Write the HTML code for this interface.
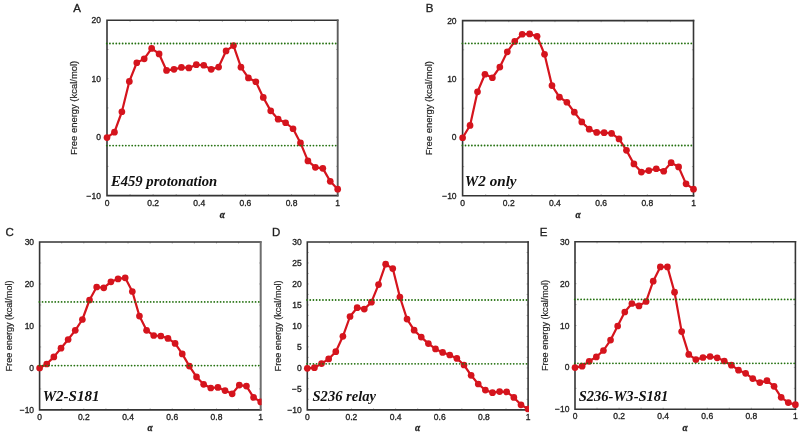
<!DOCTYPE html><html><head><meta charset="utf-8"><style>html,body{margin:0;padding:0;background:#fff;width:800px;height:436px;overflow:hidden}svg{display:block;will-change:transform}text{font-family:"Liberation Sans",sans-serif;stroke:#222;stroke-width:0.32px}</style></head><body>
<svg width="800" height="436" viewBox="0 0 800 436">
<rect width="800" height="436" fill="#fff"/>
<defs><clipPath id="c2"><rect x="33.6" y="236.0" width="228.0" height="176.89999999999998"/></clipPath><clipPath id="c3"><rect x="301.3" y="236.0" width="227.70000000000002" height="176.85000000000002"/></clipPath></defs>
<g><path d="M130.07 195.60v-1.6M130.07 20.30v1.6M153.14 195.60v-1.6M153.14 20.30v1.6M176.21 195.60v-1.6M176.21 20.30v1.6M199.28 195.60v-1.6M199.28 20.30v1.6M222.35 195.60v-1.6M222.35 20.30v1.6M245.42 195.60v-1.6M245.42 20.30v1.6M268.49 195.60v-1.6M268.49 20.30v1.6M291.56 195.60v-1.6M291.56 20.30v1.6M314.63 195.60v-1.6M314.63 20.30v1.6M107.00 166.38h1.6M337.70 166.38h-1.6M107.00 137.17h1.6M337.70 137.17h-1.6M107.00 107.95h1.6M337.70 107.95h-1.6M107.00 78.73h1.6M337.70 78.73h-1.6M107.00 49.52h1.6M337.70 49.52h-1.6" stroke="#999" stroke-width="0.7" fill="none"/><path d="M337.70 20.30H107.00V195.60H337.70" fill="none" stroke="#353535" stroke-width="1.6" stroke-linecap="square"/><path d="M337.70 19.50V196.40" fill="none" stroke="#5c5c5c" stroke-width="1.9"/><g><path d="M107.00 137.55 L114.44 132.15 L121.88 111.75 L129.33 81.45 L136.77 62.75 L144.21 58.85 L151.65 48.45 L159.09 53.95 L166.54 70.45 L173.98 69.35 L181.42 67.45 L188.86 67.95 L196.30 64.65 L203.75 65.25 L211.19 69.35 L218.63 67.05 L226.07 50.95 L233.51 45.55 L240.95 67.15 L248.40 77.95 L255.84 81.75 L263.28 97.45 L270.72 110.85 L278.16 119.15 L285.61 122.75 L293.05 128.75 L300.49 142.95 L307.93 160.95 L315.37 167.35 L322.82 168.35 L330.26 181.35 L337.70 189.15" fill="none" stroke="#d5141d" stroke-width="2.2" stroke-linejoin="round"/><g fill="#d5141d"><circle cx="107.00" cy="137.55" r="3.35"/><circle cx="114.44" cy="132.15" r="3.35"/><circle cx="121.88" cy="111.75" r="3.35"/><circle cx="129.33" cy="81.45" r="3.35"/><circle cx="136.77" cy="62.75" r="3.35"/><circle cx="144.21" cy="58.85" r="3.35"/><circle cx="151.65" cy="48.45" r="3.35"/><circle cx="159.09" cy="53.95" r="3.35"/><circle cx="166.54" cy="70.45" r="3.35"/><circle cx="173.98" cy="69.35" r="3.35"/><circle cx="181.42" cy="67.45" r="3.35"/><circle cx="188.86" cy="67.95" r="3.35"/><circle cx="196.30" cy="64.65" r="3.35"/><circle cx="203.75" cy="65.25" r="3.35"/><circle cx="211.19" cy="69.35" r="3.35"/><circle cx="218.63" cy="67.05" r="3.35"/><circle cx="226.07" cy="50.95" r="3.35"/><circle cx="233.51" cy="45.55" r="3.35"/><circle cx="240.95" cy="67.15" r="3.35"/><circle cx="248.40" cy="77.95" r="3.35"/><circle cx="255.84" cy="81.75" r="3.35"/><circle cx="263.28" cy="97.45" r="3.35"/><circle cx="270.72" cy="110.85" r="3.35"/><circle cx="278.16" cy="119.15" r="3.35"/><circle cx="285.61" cy="122.75" r="3.35"/><circle cx="293.05" cy="128.75" r="3.35"/><circle cx="300.49" cy="142.95" r="3.35"/><circle cx="307.93" cy="160.95" r="3.35"/><circle cx="315.37" cy="167.35" r="3.35"/><circle cx="322.82" cy="168.35" r="3.35"/><circle cx="330.26" cy="181.35" r="3.35"/><circle cx="337.70" cy="189.15" r="3.35"/></g></g><g fill="#23700f"><circle cx="106.75" cy="43.5" r="0.9"/><circle cx="109.93" cy="43.5" r="0.9"/><circle cx="113.11" cy="43.5" r="0.9"/><circle cx="116.29" cy="43.5" r="0.9"/><circle cx="119.47" cy="43.5" r="0.9"/><circle cx="122.65" cy="43.5" r="0.9"/><circle cx="125.83" cy="43.5" r="0.9"/><circle cx="129.01" cy="43.5" r="0.9"/><circle cx="132.19" cy="43.5" r="0.9"/><circle cx="135.37" cy="43.5" r="0.9"/><circle cx="138.55" cy="43.5" r="0.9"/><circle cx="141.73" cy="43.5" r="0.9"/><circle cx="144.91" cy="43.5" r="0.9"/><circle cx="148.09" cy="43.5" r="0.9"/><circle cx="151.27" cy="43.5" r="0.9"/><circle cx="154.45" cy="43.5" r="0.9"/><circle cx="157.63" cy="43.5" r="0.9"/><circle cx="160.81" cy="43.5" r="0.9"/><circle cx="163.99" cy="43.5" r="0.9"/><circle cx="167.17" cy="43.5" r="0.9"/><circle cx="170.35" cy="43.5" r="0.9"/><circle cx="173.53" cy="43.5" r="0.9"/><circle cx="176.71" cy="43.5" r="0.9"/><circle cx="179.89" cy="43.5" r="0.9"/><circle cx="183.07" cy="43.5" r="0.9"/><circle cx="186.25" cy="43.5" r="0.9"/><circle cx="189.43" cy="43.5" r="0.9"/><circle cx="192.61" cy="43.5" r="0.9"/><circle cx="195.79" cy="43.5" r="0.9"/><circle cx="198.97" cy="43.5" r="0.9"/><circle cx="202.15" cy="43.5" r="0.9"/><circle cx="205.33" cy="43.5" r="0.9"/><circle cx="208.51" cy="43.5" r="0.9"/><circle cx="211.69" cy="43.5" r="0.9"/><circle cx="214.87" cy="43.5" r="0.9"/><circle cx="218.05" cy="43.5" r="0.9"/><circle cx="221.23" cy="43.5" r="0.9"/><circle cx="224.41" cy="43.5" r="0.9"/><circle cx="227.59" cy="43.5" r="0.9"/><circle cx="230.77" cy="43.5" r="0.9"/><circle cx="233.95" cy="43.5" r="0.9"/><circle cx="237.13" cy="43.5" r="0.9"/><circle cx="240.31" cy="43.5" r="0.9"/><circle cx="243.49" cy="43.5" r="0.9"/><circle cx="246.67" cy="43.5" r="0.9"/><circle cx="249.85" cy="43.5" r="0.9"/><circle cx="253.03" cy="43.5" r="0.9"/><circle cx="256.21" cy="43.5" r="0.9"/><circle cx="259.39" cy="43.5" r="0.9"/><circle cx="262.57" cy="43.5" r="0.9"/><circle cx="265.75" cy="43.5" r="0.9"/><circle cx="268.93" cy="43.5" r="0.9"/><circle cx="272.11" cy="43.5" r="0.9"/><circle cx="275.29" cy="43.5" r="0.9"/><circle cx="278.47" cy="43.5" r="0.9"/><circle cx="281.65" cy="43.5" r="0.9"/><circle cx="284.83" cy="43.5" r="0.9"/><circle cx="288.01" cy="43.5" r="0.9"/><circle cx="291.19" cy="43.5" r="0.9"/><circle cx="294.37" cy="43.5" r="0.9"/><circle cx="297.55" cy="43.5" r="0.9"/><circle cx="300.73" cy="43.5" r="0.9"/><circle cx="303.91" cy="43.5" r="0.9"/><circle cx="307.09" cy="43.5" r="0.9"/><circle cx="310.27" cy="43.5" r="0.9"/><circle cx="313.45" cy="43.5" r="0.9"/><circle cx="316.63" cy="43.5" r="0.9"/><circle cx="319.81" cy="43.5" r="0.9"/><circle cx="322.99" cy="43.5" r="0.9"/><circle cx="326.17" cy="43.5" r="0.9"/><circle cx="329.35" cy="43.5" r="0.9"/><circle cx="332.53" cy="43.5" r="0.9"/><circle cx="335.71" cy="43.5" r="0.9"/></g><g fill="#23700f"><circle cx="106.75" cy="145.6" r="0.9"/><circle cx="109.93" cy="145.6" r="0.9"/><circle cx="113.11" cy="145.6" r="0.9"/><circle cx="116.29" cy="145.6" r="0.9"/><circle cx="119.47" cy="145.6" r="0.9"/><circle cx="122.65" cy="145.6" r="0.9"/><circle cx="125.83" cy="145.6" r="0.9"/><circle cx="129.01" cy="145.6" r="0.9"/><circle cx="132.19" cy="145.6" r="0.9"/><circle cx="135.37" cy="145.6" r="0.9"/><circle cx="138.55" cy="145.6" r="0.9"/><circle cx="141.73" cy="145.6" r="0.9"/><circle cx="144.91" cy="145.6" r="0.9"/><circle cx="148.09" cy="145.6" r="0.9"/><circle cx="151.27" cy="145.6" r="0.9"/><circle cx="154.45" cy="145.6" r="0.9"/><circle cx="157.63" cy="145.6" r="0.9"/><circle cx="160.81" cy="145.6" r="0.9"/><circle cx="163.99" cy="145.6" r="0.9"/><circle cx="167.17" cy="145.6" r="0.9"/><circle cx="170.35" cy="145.6" r="0.9"/><circle cx="173.53" cy="145.6" r="0.9"/><circle cx="176.71" cy="145.6" r="0.9"/><circle cx="179.89" cy="145.6" r="0.9"/><circle cx="183.07" cy="145.6" r="0.9"/><circle cx="186.25" cy="145.6" r="0.9"/><circle cx="189.43" cy="145.6" r="0.9"/><circle cx="192.61" cy="145.6" r="0.9"/><circle cx="195.79" cy="145.6" r="0.9"/><circle cx="198.97" cy="145.6" r="0.9"/><circle cx="202.15" cy="145.6" r="0.9"/><circle cx="205.33" cy="145.6" r="0.9"/><circle cx="208.51" cy="145.6" r="0.9"/><circle cx="211.69" cy="145.6" r="0.9"/><circle cx="214.87" cy="145.6" r="0.9"/><circle cx="218.05" cy="145.6" r="0.9"/><circle cx="221.23" cy="145.6" r="0.9"/><circle cx="224.41" cy="145.6" r="0.9"/><circle cx="227.59" cy="145.6" r="0.9"/><circle cx="230.77" cy="145.6" r="0.9"/><circle cx="233.95" cy="145.6" r="0.9"/><circle cx="237.13" cy="145.6" r="0.9"/><circle cx="240.31" cy="145.6" r="0.9"/><circle cx="243.49" cy="145.6" r="0.9"/><circle cx="246.67" cy="145.6" r="0.9"/><circle cx="249.85" cy="145.6" r="0.9"/><circle cx="253.03" cy="145.6" r="0.9"/><circle cx="256.21" cy="145.6" r="0.9"/><circle cx="259.39" cy="145.6" r="0.9"/><circle cx="262.57" cy="145.6" r="0.9"/><circle cx="265.75" cy="145.6" r="0.9"/><circle cx="268.93" cy="145.6" r="0.9"/><circle cx="272.11" cy="145.6" r="0.9"/><circle cx="275.29" cy="145.6" r="0.9"/><circle cx="278.47" cy="145.6" r="0.9"/><circle cx="281.65" cy="145.6" r="0.9"/><circle cx="284.83" cy="145.6" r="0.9"/><circle cx="288.01" cy="145.6" r="0.9"/><circle cx="291.19" cy="145.6" r="0.9"/><circle cx="294.37" cy="145.6" r="0.9"/><circle cx="297.55" cy="145.6" r="0.9"/><circle cx="300.73" cy="145.6" r="0.9"/><circle cx="303.91" cy="145.6" r="0.9"/><circle cx="307.09" cy="145.6" r="0.9"/><circle cx="310.27" cy="145.6" r="0.9"/><circle cx="313.45" cy="145.6" r="0.9"/><circle cx="316.63" cy="145.6" r="0.9"/><circle cx="319.81" cy="145.6" r="0.9"/><circle cx="322.99" cy="145.6" r="0.9"/><circle cx="326.17" cy="145.6" r="0.9"/><circle cx="329.35" cy="145.6" r="0.9"/><circle cx="332.53" cy="145.6" r="0.9"/><circle cx="335.71" cy="145.6" r="0.9"/></g><text x="101.00" y="23.35" font-size="8.5" text-anchor="end" fill="#1e1e1e">20</text><text x="101.00" y="81.78" font-size="8.5" text-anchor="end" fill="#1e1e1e">10</text><text x="101.00" y="140.22" font-size="8.5" text-anchor="end" fill="#1e1e1e">0</text><text x="101.00" y="198.65" font-size="8.5" text-anchor="end" fill="#1e1e1e">−10</text><text x="107.00" y="205.75" font-size="8.5" text-anchor="middle" fill="#1e1e1e">0</text><text x="153.14" y="205.75" font-size="8.5" text-anchor="middle" fill="#1e1e1e">0.2</text><text x="199.28" y="205.75" font-size="8.5" text-anchor="middle" fill="#1e1e1e">0.4</text><text x="245.42" y="205.75" font-size="8.5" text-anchor="middle" fill="#1e1e1e">0.6</text><text x="291.56" y="205.75" font-size="8.5" text-anchor="middle" fill="#1e1e1e">0.8</text><text x="337.70" y="205.75" font-size="8.5" text-anchor="middle" fill="#1e1e1e">1</text><text x="222.35" y="218.10" font-size="9.3" font-weight="bold" font-style="italic" text-anchor="middle" fill="#1e1e1e" style="font-family:'Liberation Serif',serif">α</text><text transform="translate(76.90,107.95) rotate(-90)" font-size="8.6" text-anchor="middle" fill="#1e1e1e" textLength="94.3" lengthAdjust="spacingAndGlyphs" style="stroke-width:0.18px">Free energy (kcal/mol)</text><text x="73.3" y="12.0" font-size="11.5" fill="#1e1e1e">A</text><text x="110.9" y="185.6" font-size="14.6" font-weight="bold" font-style="italic" fill="#111" textLength="106.3" lengthAdjust="spacingAndGlyphs" style="font-family:'Liberation Serif',serif;stroke-width:0">E459 protonation</text></g>
<g><path d="M485.69 195.80v-1.6M485.69 20.60v1.6M508.78 195.80v-1.6M508.78 20.60v1.6M531.87 195.80v-1.6M531.87 20.60v1.6M554.96 195.80v-1.6M554.96 20.60v1.6M578.05 195.80v-1.6M578.05 20.60v1.6M601.14 195.80v-1.6M601.14 20.60v1.6M624.23 195.80v-1.6M624.23 20.60v1.6M647.32 195.80v-1.6M647.32 20.60v1.6M670.41 195.80v-1.6M670.41 20.60v1.6M462.60 166.60h1.6M693.50 166.60h-1.6M462.60 137.40h1.6M693.50 137.40h-1.6M462.60 108.20h1.6M693.50 108.20h-1.6M462.60 79.00h1.6M693.50 79.00h-1.6M462.60 49.80h1.6M693.50 49.80h-1.6" stroke="#999" stroke-width="0.7" fill="none"/><path d="M693.50 20.60H462.60V195.80H693.50" fill="none" stroke="#353535" stroke-width="1.6" stroke-linecap="square"/><path d="M693.50 19.80V196.60" fill="none" stroke="#353535" stroke-width="1.6"/><g><path d="M462.60 137.75 L470.05 125.45 L477.50 91.85 L484.95 74.25 L492.39 77.75 L499.84 67.05 L507.29 51.85 L514.74 41.45 L522.19 34.25 L529.64 33.95 L537.08 36.35 L544.53 54.25 L551.98 85.55 L559.43 97.15 L566.88 102.25 L574.33 112.15 L581.77 121.95 L589.22 129.15 L596.67 132.45 L604.12 132.65 L611.57 133.45 L619.02 138.95 L626.46 150.35 L633.91 163.95 L641.36 172.05 L648.81 170.55 L656.26 168.75 L663.71 171.25 L671.15 162.65 L678.60 166.95 L686.05 183.85 L693.50 189.15" fill="none" stroke="#d5141d" stroke-width="2.2" stroke-linejoin="round"/><g fill="#d5141d"><circle cx="462.60" cy="137.75" r="3.35"/><circle cx="470.05" cy="125.45" r="3.35"/><circle cx="477.50" cy="91.85" r="3.35"/><circle cx="484.95" cy="74.25" r="3.35"/><circle cx="492.39" cy="77.75" r="3.35"/><circle cx="499.84" cy="67.05" r="3.35"/><circle cx="507.29" cy="51.85" r="3.35"/><circle cx="514.74" cy="41.45" r="3.35"/><circle cx="522.19" cy="34.25" r="3.35"/><circle cx="529.64" cy="33.95" r="3.35"/><circle cx="537.08" cy="36.35" r="3.35"/><circle cx="544.53" cy="54.25" r="3.35"/><circle cx="551.98" cy="85.55" r="3.35"/><circle cx="559.43" cy="97.15" r="3.35"/><circle cx="566.88" cy="102.25" r="3.35"/><circle cx="574.33" cy="112.15" r="3.35"/><circle cx="581.77" cy="121.95" r="3.35"/><circle cx="589.22" cy="129.15" r="3.35"/><circle cx="596.67" cy="132.45" r="3.35"/><circle cx="604.12" cy="132.65" r="3.35"/><circle cx="611.57" cy="133.45" r="3.35"/><circle cx="619.02" cy="138.95" r="3.35"/><circle cx="626.46" cy="150.35" r="3.35"/><circle cx="633.91" cy="163.95" r="3.35"/><circle cx="641.36" cy="172.05" r="3.35"/><circle cx="648.81" cy="170.55" r="3.35"/><circle cx="656.26" cy="168.75" r="3.35"/><circle cx="663.71" cy="171.25" r="3.35"/><circle cx="671.15" cy="162.65" r="3.35"/><circle cx="678.60" cy="166.95" r="3.35"/><circle cx="686.05" cy="183.85" r="3.35"/><circle cx="693.50" cy="189.15" r="3.35"/></g></g><g fill="#23700f"><circle cx="462.35" cy="43.45" r="0.9"/><circle cx="465.53" cy="43.45" r="0.9"/><circle cx="468.71" cy="43.45" r="0.9"/><circle cx="471.89" cy="43.45" r="0.9"/><circle cx="475.07" cy="43.45" r="0.9"/><circle cx="478.25" cy="43.45" r="0.9"/><circle cx="481.43" cy="43.45" r="0.9"/><circle cx="484.61" cy="43.45" r="0.9"/><circle cx="487.79" cy="43.45" r="0.9"/><circle cx="490.97" cy="43.45" r="0.9"/><circle cx="494.15" cy="43.45" r="0.9"/><circle cx="497.33" cy="43.45" r="0.9"/><circle cx="500.51" cy="43.45" r="0.9"/><circle cx="503.69" cy="43.45" r="0.9"/><circle cx="506.87" cy="43.45" r="0.9"/><circle cx="510.05" cy="43.45" r="0.9"/><circle cx="513.23" cy="43.45" r="0.9"/><circle cx="516.41" cy="43.45" r="0.9"/><circle cx="519.59" cy="43.45" r="0.9"/><circle cx="522.77" cy="43.45" r="0.9"/><circle cx="525.95" cy="43.45" r="0.9"/><circle cx="529.13" cy="43.45" r="0.9"/><circle cx="532.31" cy="43.45" r="0.9"/><circle cx="535.49" cy="43.45" r="0.9"/><circle cx="538.67" cy="43.45" r="0.9"/><circle cx="541.85" cy="43.45" r="0.9"/><circle cx="545.03" cy="43.45" r="0.9"/><circle cx="548.21" cy="43.45" r="0.9"/><circle cx="551.39" cy="43.45" r="0.9"/><circle cx="554.57" cy="43.45" r="0.9"/><circle cx="557.75" cy="43.45" r="0.9"/><circle cx="560.93" cy="43.45" r="0.9"/><circle cx="564.11" cy="43.45" r="0.9"/><circle cx="567.29" cy="43.45" r="0.9"/><circle cx="570.47" cy="43.45" r="0.9"/><circle cx="573.65" cy="43.45" r="0.9"/><circle cx="576.83" cy="43.45" r="0.9"/><circle cx="580.01" cy="43.45" r="0.9"/><circle cx="583.19" cy="43.45" r="0.9"/><circle cx="586.37" cy="43.45" r="0.9"/><circle cx="589.55" cy="43.45" r="0.9"/><circle cx="592.73" cy="43.45" r="0.9"/><circle cx="595.91" cy="43.45" r="0.9"/><circle cx="599.09" cy="43.45" r="0.9"/><circle cx="602.27" cy="43.45" r="0.9"/><circle cx="605.45" cy="43.45" r="0.9"/><circle cx="608.63" cy="43.45" r="0.9"/><circle cx="611.81" cy="43.45" r="0.9"/><circle cx="614.99" cy="43.45" r="0.9"/><circle cx="618.17" cy="43.45" r="0.9"/><circle cx="621.35" cy="43.45" r="0.9"/><circle cx="624.53" cy="43.45" r="0.9"/><circle cx="627.71" cy="43.45" r="0.9"/><circle cx="630.89" cy="43.45" r="0.9"/><circle cx="634.07" cy="43.45" r="0.9"/><circle cx="637.25" cy="43.45" r="0.9"/><circle cx="640.43" cy="43.45" r="0.9"/><circle cx="643.61" cy="43.45" r="0.9"/><circle cx="646.79" cy="43.45" r="0.9"/><circle cx="649.97" cy="43.45" r="0.9"/><circle cx="653.15" cy="43.45" r="0.9"/><circle cx="656.33" cy="43.45" r="0.9"/><circle cx="659.51" cy="43.45" r="0.9"/><circle cx="662.69" cy="43.45" r="0.9"/><circle cx="665.87" cy="43.45" r="0.9"/><circle cx="669.05" cy="43.45" r="0.9"/><circle cx="672.23" cy="43.45" r="0.9"/><circle cx="675.41" cy="43.45" r="0.9"/><circle cx="678.59" cy="43.45" r="0.9"/><circle cx="681.77" cy="43.45" r="0.9"/><circle cx="684.95" cy="43.45" r="0.9"/><circle cx="688.13" cy="43.45" r="0.9"/><circle cx="691.31" cy="43.45" r="0.9"/></g><g fill="#23700f"><circle cx="462.35" cy="145.5" r="0.9"/><circle cx="465.53" cy="145.5" r="0.9"/><circle cx="468.71" cy="145.5" r="0.9"/><circle cx="471.89" cy="145.5" r="0.9"/><circle cx="475.07" cy="145.5" r="0.9"/><circle cx="478.25" cy="145.5" r="0.9"/><circle cx="481.43" cy="145.5" r="0.9"/><circle cx="484.61" cy="145.5" r="0.9"/><circle cx="487.79" cy="145.5" r="0.9"/><circle cx="490.97" cy="145.5" r="0.9"/><circle cx="494.15" cy="145.5" r="0.9"/><circle cx="497.33" cy="145.5" r="0.9"/><circle cx="500.51" cy="145.5" r="0.9"/><circle cx="503.69" cy="145.5" r="0.9"/><circle cx="506.87" cy="145.5" r="0.9"/><circle cx="510.05" cy="145.5" r="0.9"/><circle cx="513.23" cy="145.5" r="0.9"/><circle cx="516.41" cy="145.5" r="0.9"/><circle cx="519.59" cy="145.5" r="0.9"/><circle cx="522.77" cy="145.5" r="0.9"/><circle cx="525.95" cy="145.5" r="0.9"/><circle cx="529.13" cy="145.5" r="0.9"/><circle cx="532.31" cy="145.5" r="0.9"/><circle cx="535.49" cy="145.5" r="0.9"/><circle cx="538.67" cy="145.5" r="0.9"/><circle cx="541.85" cy="145.5" r="0.9"/><circle cx="545.03" cy="145.5" r="0.9"/><circle cx="548.21" cy="145.5" r="0.9"/><circle cx="551.39" cy="145.5" r="0.9"/><circle cx="554.57" cy="145.5" r="0.9"/><circle cx="557.75" cy="145.5" r="0.9"/><circle cx="560.93" cy="145.5" r="0.9"/><circle cx="564.11" cy="145.5" r="0.9"/><circle cx="567.29" cy="145.5" r="0.9"/><circle cx="570.47" cy="145.5" r="0.9"/><circle cx="573.65" cy="145.5" r="0.9"/><circle cx="576.83" cy="145.5" r="0.9"/><circle cx="580.01" cy="145.5" r="0.9"/><circle cx="583.19" cy="145.5" r="0.9"/><circle cx="586.37" cy="145.5" r="0.9"/><circle cx="589.55" cy="145.5" r="0.9"/><circle cx="592.73" cy="145.5" r="0.9"/><circle cx="595.91" cy="145.5" r="0.9"/><circle cx="599.09" cy="145.5" r="0.9"/><circle cx="602.27" cy="145.5" r="0.9"/><circle cx="605.45" cy="145.5" r="0.9"/><circle cx="608.63" cy="145.5" r="0.9"/><circle cx="611.81" cy="145.5" r="0.9"/><circle cx="614.99" cy="145.5" r="0.9"/><circle cx="618.17" cy="145.5" r="0.9"/><circle cx="621.35" cy="145.5" r="0.9"/><circle cx="624.53" cy="145.5" r="0.9"/><circle cx="627.71" cy="145.5" r="0.9"/><circle cx="630.89" cy="145.5" r="0.9"/><circle cx="634.07" cy="145.5" r="0.9"/><circle cx="637.25" cy="145.5" r="0.9"/><circle cx="640.43" cy="145.5" r="0.9"/><circle cx="643.61" cy="145.5" r="0.9"/><circle cx="646.79" cy="145.5" r="0.9"/><circle cx="649.97" cy="145.5" r="0.9"/><circle cx="653.15" cy="145.5" r="0.9"/><circle cx="656.33" cy="145.5" r="0.9"/><circle cx="659.51" cy="145.5" r="0.9"/><circle cx="662.69" cy="145.5" r="0.9"/><circle cx="665.87" cy="145.5" r="0.9"/><circle cx="669.05" cy="145.5" r="0.9"/><circle cx="672.23" cy="145.5" r="0.9"/><circle cx="675.41" cy="145.5" r="0.9"/><circle cx="678.59" cy="145.5" r="0.9"/><circle cx="681.77" cy="145.5" r="0.9"/><circle cx="684.95" cy="145.5" r="0.9"/><circle cx="688.13" cy="145.5" r="0.9"/><circle cx="691.31" cy="145.5" r="0.9"/></g><text x="456.60" y="23.65" font-size="8.5" text-anchor="end" fill="#1e1e1e">20</text><text x="456.60" y="82.05" font-size="8.5" text-anchor="end" fill="#1e1e1e">10</text><text x="456.60" y="140.45" font-size="8.5" text-anchor="end" fill="#1e1e1e">0</text><text x="456.60" y="198.85" font-size="8.5" text-anchor="end" fill="#1e1e1e">−10</text><text x="462.60" y="205.95" font-size="8.5" text-anchor="middle" fill="#1e1e1e">0</text><text x="508.78" y="205.95" font-size="8.5" text-anchor="middle" fill="#1e1e1e">0.2</text><text x="554.96" y="205.95" font-size="8.5" text-anchor="middle" fill="#1e1e1e">0.4</text><text x="601.14" y="205.95" font-size="8.5" text-anchor="middle" fill="#1e1e1e">0.6</text><text x="647.32" y="205.95" font-size="8.5" text-anchor="middle" fill="#1e1e1e">0.8</text><text x="693.50" y="205.95" font-size="8.5" text-anchor="middle" fill="#1e1e1e">1</text><text x="578.05" y="218.30" font-size="9.3" font-weight="bold" font-style="italic" text-anchor="middle" fill="#1e1e1e" style="font-family:'Liberation Serif',serif">α</text><text transform="translate(432.40,108.20) rotate(-90)" font-size="8.6" text-anchor="middle" fill="#1e1e1e" textLength="94.3" lengthAdjust="spacingAndGlyphs" style="stroke-width:0.18px">Free energy (kcal/mol)</text><text x="425.7" y="11.9" font-size="11.5" fill="#1e1e1e">B</text><text x="464.8" y="186.0" font-size="14.6" font-weight="bold" font-style="italic" fill="#111" textLength="51.8" lengthAdjust="spacingAndGlyphs" style="font-family:'Liberation Serif',serif;stroke-width:0">W2 only</text></g>
<g><path d="M61.71 409.90v-1.6M61.71 242.00v1.6M83.82 409.90v-1.6M83.82 242.00v1.6M105.93 409.90v-1.6M105.93 242.00v1.6M128.04 409.90v-1.6M128.04 242.00v1.6M150.15 409.90v-1.6M150.15 242.00v1.6M172.26 409.90v-1.6M172.26 242.00v1.6M194.37 409.90v-1.6M194.37 242.00v1.6M216.48 409.90v-1.6M216.48 242.00v1.6M238.59 409.90v-1.6M238.59 242.00v1.6M39.60 388.91h1.6M260.70 388.91h-1.6M39.60 367.92h1.6M260.70 367.92h-1.6M39.60 346.94h1.6M260.70 346.94h-1.6M39.60 325.95h1.6M260.70 325.95h-1.6M39.60 304.96h1.6M260.70 304.96h-1.6M39.60 283.98h1.6M260.70 283.98h-1.6M39.60 262.99h1.6M260.70 262.99h-1.6" stroke="#999" stroke-width="0.7" fill="none"/><path d="M260.70 242.00H39.60V409.90H260.70" fill="none" stroke="#353535" stroke-width="1.6" stroke-linecap="square"/><path d="M260.70 241.20V410.70" fill="none" stroke="#6e6e6e" stroke-width="2.0"/><g clip-path="url(#c2)"><path d="M39.60 368.00 L46.73 364.00 L53.86 356.90 L61.00 348.20 L68.13 339.50 L75.26 330.30 L82.39 319.50 L89.53 300.00 L96.66 287.00 L103.79 287.80 L110.92 281.80 L118.05 278.90 L125.19 277.80 L132.32 291.50 L139.45 316.10 L146.58 330.30 L153.72 335.50 L160.85 336.00 L167.98 338.40 L175.11 343.40 L182.25 353.90 L189.38 366.10 L196.51 376.90 L203.64 384.30 L210.77 388.00 L217.91 387.40 L225.04 390.60 L232.17 393.80 L239.30 385.10 L246.44 386.10 L253.57 397.40 L260.70 401.90" fill="none" stroke="#d5141d" stroke-width="2.2" stroke-linejoin="round"/><g fill="#d5141d"><circle cx="39.60" cy="368.00" r="3.35"/><circle cx="46.73" cy="364.00" r="3.35"/><circle cx="53.86" cy="356.90" r="3.35"/><circle cx="61.00" cy="348.20" r="3.35"/><circle cx="68.13" cy="339.50" r="3.35"/><circle cx="75.26" cy="330.30" r="3.35"/><circle cx="82.39" cy="319.50" r="3.35"/><circle cx="89.53" cy="300.00" r="3.35"/><circle cx="96.66" cy="287.00" r="3.35"/><circle cx="103.79" cy="287.80" r="3.35"/><circle cx="110.92" cy="281.80" r="3.35"/><circle cx="118.05" cy="278.90" r="3.35"/><circle cx="125.19" cy="277.80" r="3.35"/><circle cx="132.32" cy="291.50" r="3.35"/><circle cx="139.45" cy="316.10" r="3.35"/><circle cx="146.58" cy="330.30" r="3.35"/><circle cx="153.72" cy="335.50" r="3.35"/><circle cx="160.85" cy="336.00" r="3.35"/><circle cx="167.98" cy="338.40" r="3.35"/><circle cx="175.11" cy="343.40" r="3.35"/><circle cx="182.25" cy="353.90" r="3.35"/><circle cx="189.38" cy="366.10" r="3.35"/><circle cx="196.51" cy="376.90" r="3.35"/><circle cx="203.64" cy="384.30" r="3.35"/><circle cx="210.77" cy="388.00" r="3.35"/><circle cx="217.91" cy="387.40" r="3.35"/><circle cx="225.04" cy="390.60" r="3.35"/><circle cx="232.17" cy="393.80" r="3.35"/><circle cx="239.30" cy="385.10" r="3.35"/><circle cx="246.44" cy="386.10" r="3.35"/><circle cx="253.57" cy="397.40" r="3.35"/><circle cx="260.70" cy="401.90" r="3.35"/></g></g><g fill="#23700f"><circle cx="39.35" cy="301.9" r="0.9"/><circle cx="42.53" cy="301.9" r="0.9"/><circle cx="45.71" cy="301.9" r="0.9"/><circle cx="48.89" cy="301.9" r="0.9"/><circle cx="52.07" cy="301.9" r="0.9"/><circle cx="55.25" cy="301.9" r="0.9"/><circle cx="58.43" cy="301.9" r="0.9"/><circle cx="61.61" cy="301.9" r="0.9"/><circle cx="64.79" cy="301.9" r="0.9"/><circle cx="67.97" cy="301.9" r="0.9"/><circle cx="71.15" cy="301.9" r="0.9"/><circle cx="74.33" cy="301.9" r="0.9"/><circle cx="77.51" cy="301.9" r="0.9"/><circle cx="80.69" cy="301.9" r="0.9"/><circle cx="83.87" cy="301.9" r="0.9"/><circle cx="87.05" cy="301.9" r="0.9"/><circle cx="90.23" cy="301.9" r="0.9"/><circle cx="93.41" cy="301.9" r="0.9"/><circle cx="96.59" cy="301.9" r="0.9"/><circle cx="99.77" cy="301.9" r="0.9"/><circle cx="102.95" cy="301.9" r="0.9"/><circle cx="106.13" cy="301.9" r="0.9"/><circle cx="109.31" cy="301.9" r="0.9"/><circle cx="112.49" cy="301.9" r="0.9"/><circle cx="115.67" cy="301.9" r="0.9"/><circle cx="118.85" cy="301.9" r="0.9"/><circle cx="122.03" cy="301.9" r="0.9"/><circle cx="125.21" cy="301.9" r="0.9"/><circle cx="128.39" cy="301.9" r="0.9"/><circle cx="131.57" cy="301.9" r="0.9"/><circle cx="134.75" cy="301.9" r="0.9"/><circle cx="137.93" cy="301.9" r="0.9"/><circle cx="141.11" cy="301.9" r="0.9"/><circle cx="144.29" cy="301.9" r="0.9"/><circle cx="147.47" cy="301.9" r="0.9"/><circle cx="150.65" cy="301.9" r="0.9"/><circle cx="153.83" cy="301.9" r="0.9"/><circle cx="157.01" cy="301.9" r="0.9"/><circle cx="160.19" cy="301.9" r="0.9"/><circle cx="163.37" cy="301.9" r="0.9"/><circle cx="166.55" cy="301.9" r="0.9"/><circle cx="169.73" cy="301.9" r="0.9"/><circle cx="172.91" cy="301.9" r="0.9"/><circle cx="176.09" cy="301.9" r="0.9"/><circle cx="179.27" cy="301.9" r="0.9"/><circle cx="182.45" cy="301.9" r="0.9"/><circle cx="185.63" cy="301.9" r="0.9"/><circle cx="188.81" cy="301.9" r="0.9"/><circle cx="191.99" cy="301.9" r="0.9"/><circle cx="195.17" cy="301.9" r="0.9"/><circle cx="198.35" cy="301.9" r="0.9"/><circle cx="201.53" cy="301.9" r="0.9"/><circle cx="204.71" cy="301.9" r="0.9"/><circle cx="207.89" cy="301.9" r="0.9"/><circle cx="211.07" cy="301.9" r="0.9"/><circle cx="214.25" cy="301.9" r="0.9"/><circle cx="217.43" cy="301.9" r="0.9"/><circle cx="220.61" cy="301.9" r="0.9"/><circle cx="223.79" cy="301.9" r="0.9"/><circle cx="226.97" cy="301.9" r="0.9"/><circle cx="230.15" cy="301.9" r="0.9"/><circle cx="233.33" cy="301.9" r="0.9"/><circle cx="236.51" cy="301.9" r="0.9"/><circle cx="239.69" cy="301.9" r="0.9"/><circle cx="242.87" cy="301.9" r="0.9"/><circle cx="246.05" cy="301.9" r="0.9"/><circle cx="249.23" cy="301.9" r="0.9"/><circle cx="252.41" cy="301.9" r="0.9"/><circle cx="255.59" cy="301.9" r="0.9"/><circle cx="258.77" cy="301.9" r="0.9"/></g><g fill="#23700f"><circle cx="39.35" cy="365.6" r="0.9"/><circle cx="42.53" cy="365.6" r="0.9"/><circle cx="45.71" cy="365.6" r="0.9"/><circle cx="48.89" cy="365.6" r="0.9"/><circle cx="52.07" cy="365.6" r="0.9"/><circle cx="55.25" cy="365.6" r="0.9"/><circle cx="58.43" cy="365.6" r="0.9"/><circle cx="61.61" cy="365.6" r="0.9"/><circle cx="64.79" cy="365.6" r="0.9"/><circle cx="67.97" cy="365.6" r="0.9"/><circle cx="71.15" cy="365.6" r="0.9"/><circle cx="74.33" cy="365.6" r="0.9"/><circle cx="77.51" cy="365.6" r="0.9"/><circle cx="80.69" cy="365.6" r="0.9"/><circle cx="83.87" cy="365.6" r="0.9"/><circle cx="87.05" cy="365.6" r="0.9"/><circle cx="90.23" cy="365.6" r="0.9"/><circle cx="93.41" cy="365.6" r="0.9"/><circle cx="96.59" cy="365.6" r="0.9"/><circle cx="99.77" cy="365.6" r="0.9"/><circle cx="102.95" cy="365.6" r="0.9"/><circle cx="106.13" cy="365.6" r="0.9"/><circle cx="109.31" cy="365.6" r="0.9"/><circle cx="112.49" cy="365.6" r="0.9"/><circle cx="115.67" cy="365.6" r="0.9"/><circle cx="118.85" cy="365.6" r="0.9"/><circle cx="122.03" cy="365.6" r="0.9"/><circle cx="125.21" cy="365.6" r="0.9"/><circle cx="128.39" cy="365.6" r="0.9"/><circle cx="131.57" cy="365.6" r="0.9"/><circle cx="134.75" cy="365.6" r="0.9"/><circle cx="137.93" cy="365.6" r="0.9"/><circle cx="141.11" cy="365.6" r="0.9"/><circle cx="144.29" cy="365.6" r="0.9"/><circle cx="147.47" cy="365.6" r="0.9"/><circle cx="150.65" cy="365.6" r="0.9"/><circle cx="153.83" cy="365.6" r="0.9"/><circle cx="157.01" cy="365.6" r="0.9"/><circle cx="160.19" cy="365.6" r="0.9"/><circle cx="163.37" cy="365.6" r="0.9"/><circle cx="166.55" cy="365.6" r="0.9"/><circle cx="169.73" cy="365.6" r="0.9"/><circle cx="172.91" cy="365.6" r="0.9"/><circle cx="176.09" cy="365.6" r="0.9"/><circle cx="179.27" cy="365.6" r="0.9"/><circle cx="182.45" cy="365.6" r="0.9"/><circle cx="185.63" cy="365.6" r="0.9"/><circle cx="188.81" cy="365.6" r="0.9"/><circle cx="191.99" cy="365.6" r="0.9"/><circle cx="195.17" cy="365.6" r="0.9"/><circle cx="198.35" cy="365.6" r="0.9"/><circle cx="201.53" cy="365.6" r="0.9"/><circle cx="204.71" cy="365.6" r="0.9"/><circle cx="207.89" cy="365.6" r="0.9"/><circle cx="211.07" cy="365.6" r="0.9"/><circle cx="214.25" cy="365.6" r="0.9"/><circle cx="217.43" cy="365.6" r="0.9"/><circle cx="220.61" cy="365.6" r="0.9"/><circle cx="223.79" cy="365.6" r="0.9"/><circle cx="226.97" cy="365.6" r="0.9"/><circle cx="230.15" cy="365.6" r="0.9"/><circle cx="233.33" cy="365.6" r="0.9"/><circle cx="236.51" cy="365.6" r="0.9"/><circle cx="239.69" cy="365.6" r="0.9"/><circle cx="242.87" cy="365.6" r="0.9"/><circle cx="246.05" cy="365.6" r="0.9"/><circle cx="249.23" cy="365.6" r="0.9"/><circle cx="252.41" cy="365.6" r="0.9"/><circle cx="255.59" cy="365.6" r="0.9"/><circle cx="258.77" cy="365.6" r="0.9"/></g><text x="34.10" y="245.05" font-size="8.5" text-anchor="end" fill="#1e1e1e">30</text><text x="34.10" y="287.03" font-size="8.5" text-anchor="end" fill="#1e1e1e">20</text><text x="34.10" y="329.00" font-size="8.5" text-anchor="end" fill="#1e1e1e">10</text><text x="34.10" y="370.97" font-size="8.5" text-anchor="end" fill="#1e1e1e">0</text><text x="34.10" y="412.95" font-size="8.5" text-anchor="end" fill="#1e1e1e">−10</text><text x="39.60" y="420.00" font-size="8.5" text-anchor="middle" fill="#1e1e1e">0</text><text x="83.82" y="420.00" font-size="8.5" text-anchor="middle" fill="#1e1e1e">0.2</text><text x="128.04" y="420.00" font-size="8.5" text-anchor="middle" fill="#1e1e1e">0.4</text><text x="172.26" y="420.00" font-size="8.5" text-anchor="middle" fill="#1e1e1e">0.6</text><text x="216.48" y="420.00" font-size="8.5" text-anchor="middle" fill="#1e1e1e">0.8</text><text x="260.70" y="420.00" font-size="8.5" text-anchor="middle" fill="#1e1e1e">1</text><text x="150.15" y="431.30" font-size="9.3" font-weight="bold" font-style="italic" text-anchor="middle" fill="#1e1e1e" style="font-family:'Liberation Serif',serif">α</text><text transform="translate(11.70,325.95) rotate(-90)" font-size="8.6" text-anchor="middle" fill="#1e1e1e" textLength="91.0" lengthAdjust="spacingAndGlyphs" style="stroke-width:0.18px">Free energy (kcal/mol)</text><text x="5.5" y="235.8" font-size="11.5" fill="#1e1e1e">C</text><text x="42.7" y="400.7" font-size="14.6" font-weight="bold" font-style="italic" fill="#111" textLength="56.9" lengthAdjust="spacingAndGlyphs" style="font-family:'Liberation Serif',serif;stroke-width:0">W2-S181</text></g>
<g><path d="M329.38 409.85v-1.6M329.38 242.00v1.6M351.46 409.85v-1.6M351.46 242.00v1.6M373.54 409.85v-1.6M373.54 242.00v1.6M395.62 409.85v-1.6M395.62 242.00v1.6M417.70 409.85v-1.6M417.70 242.00v1.6M439.78 409.85v-1.6M439.78 242.00v1.6M461.86 409.85v-1.6M461.86 242.00v1.6M483.94 409.85v-1.6M483.94 242.00v1.6M506.02 409.85v-1.6M506.02 242.00v1.6M307.30 399.36h1.6M528.10 399.36h-1.6M307.30 388.87h1.6M528.10 388.87h-1.6M307.30 378.38h1.6M528.10 378.38h-1.6M307.30 367.89h1.6M528.10 367.89h-1.6M307.30 357.40h1.6M528.10 357.40h-1.6M307.30 346.91h1.6M528.10 346.91h-1.6M307.30 336.42h1.6M528.10 336.42h-1.6M307.30 325.93h1.6M528.10 325.93h-1.6M307.30 315.43h1.6M528.10 315.43h-1.6M307.30 304.94h1.6M528.10 304.94h-1.6M307.30 294.45h1.6M528.10 294.45h-1.6M307.30 283.96h1.6M528.10 283.96h-1.6M307.30 273.47h1.6M528.10 273.47h-1.6M307.30 262.98h1.6M528.10 262.98h-1.6M307.30 252.49h1.6M528.10 252.49h-1.6" stroke="#999" stroke-width="0.7" fill="none"/><path d="M528.10 242.00H307.30V409.85H528.10" fill="none" stroke="#353535" stroke-width="1.6" stroke-linecap="square"/><path d="M528.10 241.20V410.65" fill="none" stroke="#353535" stroke-width="1.6"/><g clip-path="url(#c3)"><path d="M307.30 368.30 L314.42 367.70 L321.55 363.60 L328.67 358.90 L335.79 351.70 L342.91 336.30 L350.04 316.50 L357.16 307.70 L364.28 309.10 L371.40 302.20 L378.53 284.60 L385.65 264.20 L392.77 268.60 L399.89 297.00 L407.02 319.10 L414.14 330.20 L421.26 337.10 L428.38 343.60 L435.51 348.90 L442.63 352.40 L449.75 355.00 L456.87 358.40 L464.00 365.00 L471.12 375.30 L478.24 384.00 L485.36 390.10 L492.49 392.70 L499.61 391.60 L506.73 391.90 L513.85 397.40 L520.98 404.80 L528.10 409.00" fill="none" stroke="#d5141d" stroke-width="2.2" stroke-linejoin="round"/><g fill="#d5141d"><circle cx="307.30" cy="368.30" r="3.35"/><circle cx="314.42" cy="367.70" r="3.35"/><circle cx="321.55" cy="363.60" r="3.35"/><circle cx="328.67" cy="358.90" r="3.35"/><circle cx="335.79" cy="351.70" r="3.35"/><circle cx="342.91" cy="336.30" r="3.35"/><circle cx="350.04" cy="316.50" r="3.35"/><circle cx="357.16" cy="307.70" r="3.35"/><circle cx="364.28" cy="309.10" r="3.35"/><circle cx="371.40" cy="302.20" r="3.35"/><circle cx="378.53" cy="284.60" r="3.35"/><circle cx="385.65" cy="264.20" r="3.35"/><circle cx="392.77" cy="268.60" r="3.35"/><circle cx="399.89" cy="297.00" r="3.35"/><circle cx="407.02" cy="319.10" r="3.35"/><circle cx="414.14" cy="330.20" r="3.35"/><circle cx="421.26" cy="337.10" r="3.35"/><circle cx="428.38" cy="343.60" r="3.35"/><circle cx="435.51" cy="348.90" r="3.35"/><circle cx="442.63" cy="352.40" r="3.35"/><circle cx="449.75" cy="355.00" r="3.35"/><circle cx="456.87" cy="358.40" r="3.35"/><circle cx="464.00" cy="365.00" r="3.35"/><circle cx="471.12" cy="375.30" r="3.35"/><circle cx="478.24" cy="384.00" r="3.35"/><circle cx="485.36" cy="390.10" r="3.35"/><circle cx="492.49" cy="392.70" r="3.35"/><circle cx="499.61" cy="391.60" r="3.35"/><circle cx="506.73" cy="391.90" r="3.35"/><circle cx="513.85" cy="397.40" r="3.35"/><circle cx="520.98" cy="404.80" r="3.35"/><circle cx="528.10" cy="409.00" r="3.35"/></g></g><g fill="#23700f"><circle cx="307.05" cy="300.0" r="0.9"/><circle cx="310.23" cy="300.0" r="0.9"/><circle cx="313.41" cy="300.0" r="0.9"/><circle cx="316.59" cy="300.0" r="0.9"/><circle cx="319.77" cy="300.0" r="0.9"/><circle cx="322.95" cy="300.0" r="0.9"/><circle cx="326.13" cy="300.0" r="0.9"/><circle cx="329.31" cy="300.0" r="0.9"/><circle cx="332.49" cy="300.0" r="0.9"/><circle cx="335.67" cy="300.0" r="0.9"/><circle cx="338.85" cy="300.0" r="0.9"/><circle cx="342.03" cy="300.0" r="0.9"/><circle cx="345.21" cy="300.0" r="0.9"/><circle cx="348.39" cy="300.0" r="0.9"/><circle cx="351.57" cy="300.0" r="0.9"/><circle cx="354.75" cy="300.0" r="0.9"/><circle cx="357.93" cy="300.0" r="0.9"/><circle cx="361.11" cy="300.0" r="0.9"/><circle cx="364.29" cy="300.0" r="0.9"/><circle cx="367.47" cy="300.0" r="0.9"/><circle cx="370.65" cy="300.0" r="0.9"/><circle cx="373.83" cy="300.0" r="0.9"/><circle cx="377.01" cy="300.0" r="0.9"/><circle cx="380.19" cy="300.0" r="0.9"/><circle cx="383.37" cy="300.0" r="0.9"/><circle cx="386.55" cy="300.0" r="0.9"/><circle cx="389.73" cy="300.0" r="0.9"/><circle cx="392.91" cy="300.0" r="0.9"/><circle cx="396.09" cy="300.0" r="0.9"/><circle cx="399.27" cy="300.0" r="0.9"/><circle cx="402.45" cy="300.0" r="0.9"/><circle cx="405.63" cy="300.0" r="0.9"/><circle cx="408.81" cy="300.0" r="0.9"/><circle cx="411.99" cy="300.0" r="0.9"/><circle cx="415.17" cy="300.0" r="0.9"/><circle cx="418.35" cy="300.0" r="0.9"/><circle cx="421.53" cy="300.0" r="0.9"/><circle cx="424.71" cy="300.0" r="0.9"/><circle cx="427.89" cy="300.0" r="0.9"/><circle cx="431.07" cy="300.0" r="0.9"/><circle cx="434.25" cy="300.0" r="0.9"/><circle cx="437.43" cy="300.0" r="0.9"/><circle cx="440.61" cy="300.0" r="0.9"/><circle cx="443.79" cy="300.0" r="0.9"/><circle cx="446.97" cy="300.0" r="0.9"/><circle cx="450.15" cy="300.0" r="0.9"/><circle cx="453.33" cy="300.0" r="0.9"/><circle cx="456.51" cy="300.0" r="0.9"/><circle cx="459.69" cy="300.0" r="0.9"/><circle cx="462.87" cy="300.0" r="0.9"/><circle cx="466.05" cy="300.0" r="0.9"/><circle cx="469.23" cy="300.0" r="0.9"/><circle cx="472.41" cy="300.0" r="0.9"/><circle cx="475.59" cy="300.0" r="0.9"/><circle cx="478.77" cy="300.0" r="0.9"/><circle cx="481.95" cy="300.0" r="0.9"/><circle cx="485.13" cy="300.0" r="0.9"/><circle cx="488.31" cy="300.0" r="0.9"/><circle cx="491.49" cy="300.0" r="0.9"/><circle cx="494.67" cy="300.0" r="0.9"/><circle cx="497.85" cy="300.0" r="0.9"/><circle cx="501.03" cy="300.0" r="0.9"/><circle cx="504.21" cy="300.0" r="0.9"/><circle cx="507.39" cy="300.0" r="0.9"/><circle cx="510.57" cy="300.0" r="0.9"/><circle cx="513.75" cy="300.0" r="0.9"/><circle cx="516.93" cy="300.0" r="0.9"/><circle cx="520.11" cy="300.0" r="0.9"/><circle cx="523.29" cy="300.0" r="0.9"/><circle cx="526.47" cy="300.0" r="0.9"/></g><g fill="#23700f"><circle cx="307.05" cy="363.8" r="0.9"/><circle cx="310.23" cy="363.8" r="0.9"/><circle cx="313.41" cy="363.8" r="0.9"/><circle cx="316.59" cy="363.8" r="0.9"/><circle cx="319.77" cy="363.8" r="0.9"/><circle cx="322.95" cy="363.8" r="0.9"/><circle cx="326.13" cy="363.8" r="0.9"/><circle cx="329.31" cy="363.8" r="0.9"/><circle cx="332.49" cy="363.8" r="0.9"/><circle cx="335.67" cy="363.8" r="0.9"/><circle cx="338.85" cy="363.8" r="0.9"/><circle cx="342.03" cy="363.8" r="0.9"/><circle cx="345.21" cy="363.8" r="0.9"/><circle cx="348.39" cy="363.8" r="0.9"/><circle cx="351.57" cy="363.8" r="0.9"/><circle cx="354.75" cy="363.8" r="0.9"/><circle cx="357.93" cy="363.8" r="0.9"/><circle cx="361.11" cy="363.8" r="0.9"/><circle cx="364.29" cy="363.8" r="0.9"/><circle cx="367.47" cy="363.8" r="0.9"/><circle cx="370.65" cy="363.8" r="0.9"/><circle cx="373.83" cy="363.8" r="0.9"/><circle cx="377.01" cy="363.8" r="0.9"/><circle cx="380.19" cy="363.8" r="0.9"/><circle cx="383.37" cy="363.8" r="0.9"/><circle cx="386.55" cy="363.8" r="0.9"/><circle cx="389.73" cy="363.8" r="0.9"/><circle cx="392.91" cy="363.8" r="0.9"/><circle cx="396.09" cy="363.8" r="0.9"/><circle cx="399.27" cy="363.8" r="0.9"/><circle cx="402.45" cy="363.8" r="0.9"/><circle cx="405.63" cy="363.8" r="0.9"/><circle cx="408.81" cy="363.8" r="0.9"/><circle cx="411.99" cy="363.8" r="0.9"/><circle cx="415.17" cy="363.8" r="0.9"/><circle cx="418.35" cy="363.8" r="0.9"/><circle cx="421.53" cy="363.8" r="0.9"/><circle cx="424.71" cy="363.8" r="0.9"/><circle cx="427.89" cy="363.8" r="0.9"/><circle cx="431.07" cy="363.8" r="0.9"/><circle cx="434.25" cy="363.8" r="0.9"/><circle cx="437.43" cy="363.8" r="0.9"/><circle cx="440.61" cy="363.8" r="0.9"/><circle cx="443.79" cy="363.8" r="0.9"/><circle cx="446.97" cy="363.8" r="0.9"/><circle cx="450.15" cy="363.8" r="0.9"/><circle cx="453.33" cy="363.8" r="0.9"/><circle cx="456.51" cy="363.8" r="0.9"/><circle cx="459.69" cy="363.8" r="0.9"/><circle cx="462.87" cy="363.8" r="0.9"/><circle cx="466.05" cy="363.8" r="0.9"/><circle cx="469.23" cy="363.8" r="0.9"/><circle cx="472.41" cy="363.8" r="0.9"/><circle cx="475.59" cy="363.8" r="0.9"/><circle cx="478.77" cy="363.8" r="0.9"/><circle cx="481.95" cy="363.8" r="0.9"/><circle cx="485.13" cy="363.8" r="0.9"/><circle cx="488.31" cy="363.8" r="0.9"/><circle cx="491.49" cy="363.8" r="0.9"/><circle cx="494.67" cy="363.8" r="0.9"/><circle cx="497.85" cy="363.8" r="0.9"/><circle cx="501.03" cy="363.8" r="0.9"/><circle cx="504.21" cy="363.8" r="0.9"/><circle cx="507.39" cy="363.8" r="0.9"/><circle cx="510.57" cy="363.8" r="0.9"/><circle cx="513.75" cy="363.8" r="0.9"/><circle cx="516.93" cy="363.8" r="0.9"/><circle cx="520.11" cy="363.8" r="0.9"/><circle cx="523.29" cy="363.8" r="0.9"/><circle cx="526.47" cy="363.8" r="0.9"/></g><text x="301.80" y="245.05" font-size="8.5" text-anchor="end" fill="#1e1e1e">30</text><text x="301.80" y="266.03" font-size="8.5" text-anchor="end" fill="#1e1e1e">25</text><text x="301.80" y="287.01" font-size="8.5" text-anchor="end" fill="#1e1e1e">20</text><text x="301.80" y="307.99" font-size="8.5" text-anchor="end" fill="#1e1e1e">15</text><text x="301.80" y="328.98" font-size="8.5" text-anchor="end" fill="#1e1e1e">10</text><text x="301.80" y="349.96" font-size="8.5" text-anchor="end" fill="#1e1e1e">5</text><text x="301.80" y="370.94" font-size="8.5" text-anchor="end" fill="#1e1e1e">0</text><text x="301.80" y="391.92" font-size="8.5" text-anchor="end" fill="#1e1e1e">−5</text><text x="301.80" y="412.90" font-size="8.5" text-anchor="end" fill="#1e1e1e">−10</text><text x="307.30" y="419.95" font-size="8.5" text-anchor="middle" fill="#1e1e1e">0</text><text x="351.46" y="419.95" font-size="8.5" text-anchor="middle" fill="#1e1e1e">0.2</text><text x="395.62" y="419.95" font-size="8.5" text-anchor="middle" fill="#1e1e1e">0.4</text><text x="439.78" y="419.95" font-size="8.5" text-anchor="middle" fill="#1e1e1e">0.6</text><text x="483.94" y="419.95" font-size="8.5" text-anchor="middle" fill="#1e1e1e">0.8</text><text x="528.10" y="419.95" font-size="8.5" text-anchor="middle" fill="#1e1e1e">1</text><text x="417.70" y="431.25" font-size="9.3" font-weight="bold" font-style="italic" text-anchor="middle" fill="#1e1e1e" style="font-family:'Liberation Serif',serif">α</text><text transform="translate(280.70,325.93) rotate(-90)" font-size="8.6" text-anchor="middle" fill="#1e1e1e" textLength="91.0" lengthAdjust="spacingAndGlyphs" style="stroke-width:0.18px">Free energy (kcal/mol)</text><text x="271.9" y="235.6" font-size="11.5" fill="#1e1e1e">D</text><text x="312.5" y="400.7" font-size="14.6" font-weight="bold" font-style="italic" fill="#111" textLength="63.5" lengthAdjust="spacingAndGlyphs" style="font-family:'Liberation Serif',serif;stroke-width:0">S236 relay</text></g>
<g><path d="M597.04 409.30v-1.6M597.04 241.80v1.6M619.08 409.30v-1.6M619.08 241.80v1.6M641.12 409.30v-1.6M641.12 241.80v1.6M663.16 409.30v-1.6M663.16 241.80v1.6M685.20 409.30v-1.6M685.20 241.80v1.6M707.24 409.30v-1.6M707.24 241.80v1.6M729.28 409.30v-1.6M729.28 241.80v1.6M751.32 409.30v-1.6M751.32 241.80v1.6M773.36 409.30v-1.6M773.36 241.80v1.6M575.00 388.36h1.6M795.40 388.36h-1.6M575.00 367.43h1.6M795.40 367.43h-1.6M575.00 346.49h1.6M795.40 346.49h-1.6M575.00 325.55h1.6M795.40 325.55h-1.6M575.00 304.61h1.6M795.40 304.61h-1.6M575.00 283.68h1.6M795.40 283.68h-1.6M575.00 262.74h1.6M795.40 262.74h-1.6" stroke="#999" stroke-width="0.7" fill="none"/><path d="M795.40 241.80H575.00V409.30H795.40" fill="none" stroke="#353535" stroke-width="1.6" stroke-linecap="square"/><path d="M795.40 241.00V410.10" fill="none" stroke="#353535" stroke-width="1.6"/><g><path d="M575.00 367.60 L582.11 366.20 L589.22 361.30 L596.33 356.90 L603.44 350.50 L610.55 340.10 L617.66 326.00 L624.77 312.00 L631.88 303.50 L638.99 305.90 L646.10 301.50 L653.21 281.20 L660.32 266.90 L667.43 266.90 L674.54 292.20 L681.65 331.60 L688.75 354.40 L695.86 359.60 L702.97 357.50 L710.08 356.50 L717.19 357.80 L724.30 361.00 L731.41 365.20 L738.52 370.20 L745.63 373.30 L752.74 378.60 L759.85 382.60 L766.96 380.70 L774.07 386.30 L781.18 397.30 L788.29 402.60 L795.40 404.70" fill="none" stroke="#d5141d" stroke-width="2.2" stroke-linejoin="round"/><g fill="#d5141d"><circle cx="575.00" cy="367.60" r="3.35"/><circle cx="582.11" cy="366.20" r="3.35"/><circle cx="589.22" cy="361.30" r="3.35"/><circle cx="596.33" cy="356.90" r="3.35"/><circle cx="603.44" cy="350.50" r="3.35"/><circle cx="610.55" cy="340.10" r="3.35"/><circle cx="617.66" cy="326.00" r="3.35"/><circle cx="624.77" cy="312.00" r="3.35"/><circle cx="631.88" cy="303.50" r="3.35"/><circle cx="638.99" cy="305.90" r="3.35"/><circle cx="646.10" cy="301.50" r="3.35"/><circle cx="653.21" cy="281.20" r="3.35"/><circle cx="660.32" cy="266.90" r="3.35"/><circle cx="667.43" cy="266.90" r="3.35"/><circle cx="674.54" cy="292.20" r="3.35"/><circle cx="681.65" cy="331.60" r="3.35"/><circle cx="688.75" cy="354.40" r="3.35"/><circle cx="695.86" cy="359.60" r="3.35"/><circle cx="702.97" cy="357.50" r="3.35"/><circle cx="710.08" cy="356.50" r="3.35"/><circle cx="717.19" cy="357.80" r="3.35"/><circle cx="724.30" cy="361.00" r="3.35"/><circle cx="731.41" cy="365.20" r="3.35"/><circle cx="738.52" cy="370.20" r="3.35"/><circle cx="745.63" cy="373.30" r="3.35"/><circle cx="752.74" cy="378.60" r="3.35"/><circle cx="759.85" cy="382.60" r="3.35"/><circle cx="766.96" cy="380.70" r="3.35"/><circle cx="774.07" cy="386.30" r="3.35"/><circle cx="781.18" cy="397.30" r="3.35"/><circle cx="788.29" cy="402.60" r="3.35"/><circle cx="795.40" cy="404.70" r="3.35"/></g></g><g fill="#23700f"><circle cx="574.75" cy="299.4" r="0.9"/><circle cx="577.93" cy="299.4" r="0.9"/><circle cx="581.11" cy="299.4" r="0.9"/><circle cx="584.29" cy="299.4" r="0.9"/><circle cx="587.47" cy="299.4" r="0.9"/><circle cx="590.65" cy="299.4" r="0.9"/><circle cx="593.83" cy="299.4" r="0.9"/><circle cx="597.01" cy="299.4" r="0.9"/><circle cx="600.19" cy="299.4" r="0.9"/><circle cx="603.37" cy="299.4" r="0.9"/><circle cx="606.55" cy="299.4" r="0.9"/><circle cx="609.73" cy="299.4" r="0.9"/><circle cx="612.91" cy="299.4" r="0.9"/><circle cx="616.09" cy="299.4" r="0.9"/><circle cx="619.27" cy="299.4" r="0.9"/><circle cx="622.45" cy="299.4" r="0.9"/><circle cx="625.63" cy="299.4" r="0.9"/><circle cx="628.81" cy="299.4" r="0.9"/><circle cx="631.99" cy="299.4" r="0.9"/><circle cx="635.17" cy="299.4" r="0.9"/><circle cx="638.35" cy="299.4" r="0.9"/><circle cx="641.53" cy="299.4" r="0.9"/><circle cx="644.71" cy="299.4" r="0.9"/><circle cx="647.89" cy="299.4" r="0.9"/><circle cx="651.07" cy="299.4" r="0.9"/><circle cx="654.25" cy="299.4" r="0.9"/><circle cx="657.43" cy="299.4" r="0.9"/><circle cx="660.61" cy="299.4" r="0.9"/><circle cx="663.79" cy="299.4" r="0.9"/><circle cx="666.97" cy="299.4" r="0.9"/><circle cx="670.15" cy="299.4" r="0.9"/><circle cx="673.33" cy="299.4" r="0.9"/><circle cx="676.51" cy="299.4" r="0.9"/><circle cx="679.69" cy="299.4" r="0.9"/><circle cx="682.87" cy="299.4" r="0.9"/><circle cx="686.05" cy="299.4" r="0.9"/><circle cx="689.23" cy="299.4" r="0.9"/><circle cx="692.41" cy="299.4" r="0.9"/><circle cx="695.59" cy="299.4" r="0.9"/><circle cx="698.77" cy="299.4" r="0.9"/><circle cx="701.95" cy="299.4" r="0.9"/><circle cx="705.13" cy="299.4" r="0.9"/><circle cx="708.31" cy="299.4" r="0.9"/><circle cx="711.49" cy="299.4" r="0.9"/><circle cx="714.67" cy="299.4" r="0.9"/><circle cx="717.85" cy="299.4" r="0.9"/><circle cx="721.03" cy="299.4" r="0.9"/><circle cx="724.21" cy="299.4" r="0.9"/><circle cx="727.39" cy="299.4" r="0.9"/><circle cx="730.57" cy="299.4" r="0.9"/><circle cx="733.75" cy="299.4" r="0.9"/><circle cx="736.93" cy="299.4" r="0.9"/><circle cx="740.11" cy="299.4" r="0.9"/><circle cx="743.29" cy="299.4" r="0.9"/><circle cx="746.47" cy="299.4" r="0.9"/><circle cx="749.65" cy="299.4" r="0.9"/><circle cx="752.83" cy="299.4" r="0.9"/><circle cx="756.01" cy="299.4" r="0.9"/><circle cx="759.19" cy="299.4" r="0.9"/><circle cx="762.37" cy="299.4" r="0.9"/><circle cx="765.55" cy="299.4" r="0.9"/><circle cx="768.73" cy="299.4" r="0.9"/><circle cx="771.91" cy="299.4" r="0.9"/><circle cx="775.09" cy="299.4" r="0.9"/><circle cx="778.27" cy="299.4" r="0.9"/><circle cx="781.45" cy="299.4" r="0.9"/><circle cx="784.63" cy="299.4" r="0.9"/><circle cx="787.81" cy="299.4" r="0.9"/><circle cx="790.99" cy="299.4" r="0.9"/><circle cx="794.17" cy="299.4" r="0.9"/></g><g fill="#23700f"><circle cx="574.75" cy="363.3" r="0.9"/><circle cx="577.93" cy="363.3" r="0.9"/><circle cx="581.11" cy="363.3" r="0.9"/><circle cx="584.29" cy="363.3" r="0.9"/><circle cx="587.47" cy="363.3" r="0.9"/><circle cx="590.65" cy="363.3" r="0.9"/><circle cx="593.83" cy="363.3" r="0.9"/><circle cx="597.01" cy="363.3" r="0.9"/><circle cx="600.19" cy="363.3" r="0.9"/><circle cx="603.37" cy="363.3" r="0.9"/><circle cx="606.55" cy="363.3" r="0.9"/><circle cx="609.73" cy="363.3" r="0.9"/><circle cx="612.91" cy="363.3" r="0.9"/><circle cx="616.09" cy="363.3" r="0.9"/><circle cx="619.27" cy="363.3" r="0.9"/><circle cx="622.45" cy="363.3" r="0.9"/><circle cx="625.63" cy="363.3" r="0.9"/><circle cx="628.81" cy="363.3" r="0.9"/><circle cx="631.99" cy="363.3" r="0.9"/><circle cx="635.17" cy="363.3" r="0.9"/><circle cx="638.35" cy="363.3" r="0.9"/><circle cx="641.53" cy="363.3" r="0.9"/><circle cx="644.71" cy="363.3" r="0.9"/><circle cx="647.89" cy="363.3" r="0.9"/><circle cx="651.07" cy="363.3" r="0.9"/><circle cx="654.25" cy="363.3" r="0.9"/><circle cx="657.43" cy="363.3" r="0.9"/><circle cx="660.61" cy="363.3" r="0.9"/><circle cx="663.79" cy="363.3" r="0.9"/><circle cx="666.97" cy="363.3" r="0.9"/><circle cx="670.15" cy="363.3" r="0.9"/><circle cx="673.33" cy="363.3" r="0.9"/><circle cx="676.51" cy="363.3" r="0.9"/><circle cx="679.69" cy="363.3" r="0.9"/><circle cx="682.87" cy="363.3" r="0.9"/><circle cx="686.05" cy="363.3" r="0.9"/><circle cx="689.23" cy="363.3" r="0.9"/><circle cx="692.41" cy="363.3" r="0.9"/><circle cx="695.59" cy="363.3" r="0.9"/><circle cx="698.77" cy="363.3" r="0.9"/><circle cx="701.95" cy="363.3" r="0.9"/><circle cx="705.13" cy="363.3" r="0.9"/><circle cx="708.31" cy="363.3" r="0.9"/><circle cx="711.49" cy="363.3" r="0.9"/><circle cx="714.67" cy="363.3" r="0.9"/><circle cx="717.85" cy="363.3" r="0.9"/><circle cx="721.03" cy="363.3" r="0.9"/><circle cx="724.21" cy="363.3" r="0.9"/><circle cx="727.39" cy="363.3" r="0.9"/><circle cx="730.57" cy="363.3" r="0.9"/><circle cx="733.75" cy="363.3" r="0.9"/><circle cx="736.93" cy="363.3" r="0.9"/><circle cx="740.11" cy="363.3" r="0.9"/><circle cx="743.29" cy="363.3" r="0.9"/><circle cx="746.47" cy="363.3" r="0.9"/><circle cx="749.65" cy="363.3" r="0.9"/><circle cx="752.83" cy="363.3" r="0.9"/><circle cx="756.01" cy="363.3" r="0.9"/><circle cx="759.19" cy="363.3" r="0.9"/><circle cx="762.37" cy="363.3" r="0.9"/><circle cx="765.55" cy="363.3" r="0.9"/><circle cx="768.73" cy="363.3" r="0.9"/><circle cx="771.91" cy="363.3" r="0.9"/><circle cx="775.09" cy="363.3" r="0.9"/><circle cx="778.27" cy="363.3" r="0.9"/><circle cx="781.45" cy="363.3" r="0.9"/><circle cx="784.63" cy="363.3" r="0.9"/><circle cx="787.81" cy="363.3" r="0.9"/><circle cx="790.99" cy="363.3" r="0.9"/><circle cx="794.17" cy="363.3" r="0.9"/></g><text x="569.50" y="244.85" font-size="8.5" text-anchor="end" fill="#1e1e1e">30</text><text x="569.50" y="286.73" font-size="8.5" text-anchor="end" fill="#1e1e1e">20</text><text x="569.50" y="328.60" font-size="8.5" text-anchor="end" fill="#1e1e1e">10</text><text x="569.50" y="370.48" font-size="8.5" text-anchor="end" fill="#1e1e1e">0</text><text x="569.50" y="412.35" font-size="8.5" text-anchor="end" fill="#1e1e1e">−10</text><text x="575.00" y="419.40" font-size="8.5" text-anchor="middle" fill="#1e1e1e">0</text><text x="619.08" y="419.40" font-size="8.5" text-anchor="middle" fill="#1e1e1e">0.2</text><text x="663.16" y="419.40" font-size="8.5" text-anchor="middle" fill="#1e1e1e">0.4</text><text x="707.24" y="419.40" font-size="8.5" text-anchor="middle" fill="#1e1e1e">0.6</text><text x="751.32" y="419.40" font-size="8.5" text-anchor="middle" fill="#1e1e1e">0.8</text><text x="795.40" y="419.40" font-size="8.5" text-anchor="middle" fill="#1e1e1e">1</text><text x="685.20" y="430.70" font-size="9.3" font-weight="bold" font-style="italic" text-anchor="middle" fill="#1e1e1e" style="font-family:'Liberation Serif',serif">α</text><text transform="translate(548.10,325.55) rotate(-90)" font-size="8.6" text-anchor="middle" fill="#1e1e1e" textLength="91.0" lengthAdjust="spacingAndGlyphs" style="stroke-width:0.18px">Free energy (kcal/mol)</text><text x="539.8" y="235.6" font-size="11.5" fill="#1e1e1e">E</text><text x="578.7" y="400.7" font-size="14.6" font-weight="bold" font-style="italic" fill="#111" textLength="89.7" lengthAdjust="spacingAndGlyphs" style="font-family:'Liberation Serif',serif;stroke-width:0">S236-W3-S181</text></g>
</svg></body></html>
